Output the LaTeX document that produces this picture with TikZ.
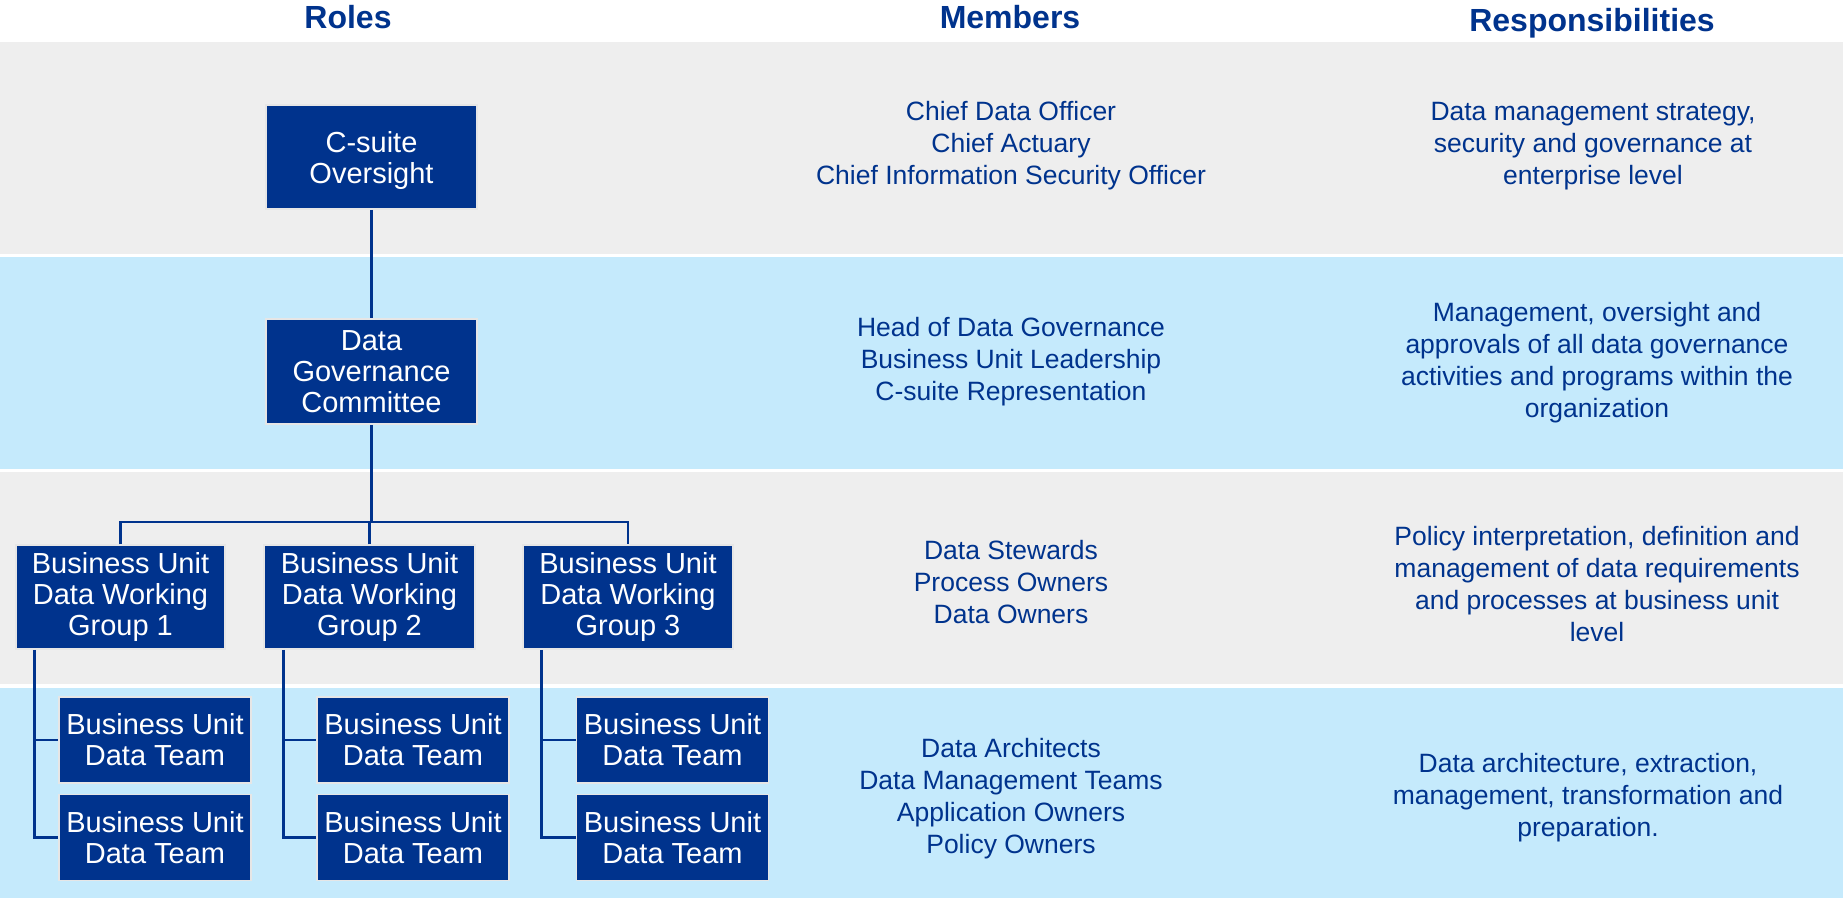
\documentclass[tikz,border=0pt]{standalone}
\usepackage{fontspec}
\setmainfont{Liberation Sans}
\definecolor{navy}{HTML}{00338D}
\definecolor{bandgray}{HTML}{EEEEEE}
\definecolor{bandblue}{HTML}{C5EAFC}
\definecolor{rim}{HTML}{E6E6E6}
\begin{document}
\begin{tikzpicture}[x=1pt,y=-1pt,
  rolebox/.style={fill=navy,draw=rim,line width=1.5pt,text=white,align=center,
    inner sep=0pt,font=\fontsize{29}{31}\selectfont},
  wide/.style={rolebox,minimum width=211pt,minimum height=104pt},
  team/.style={rolebox,minimum width=192pt,minimum height=86pt},
  colhead/.style={text=navy,font=\fontsize{32}{36}\selectfont\bfseries},
  info/.style={text=navy,align=center,font=\fontsize{26.5}{32}\selectfont},
  link/.style={draw=navy,line width=2.7pt}]
\useasboundingbox (0,0) rectangle (1843,898);
\fill[white] (0,0) rectangle (1843,898);
% horizontal bands, one per level
\fill[bandgray] (0,42) rectangle (1843,254);
\fill[bandblue] (0,257) rectangle (1843,469);
\fill[bandgray] (0,472) rectangle (1843,684);
\fill[bandblue] (0,688) rectangle (1843,898);

% column headings
\node[colhead] (hroles) at (348,17) {Roles};
\node[colhead] (hmembers) at (1010,17) {Members};
\node[colhead] (hresp) at (1592,23) {Responsibilities};

% role boxes
\node[wide] (cso) at (371.5,157) {\raisebox{-5pt}[\height][\depth]{\begin{tabular}{@{}c@{}}C-suite\\Oversight\end{tabular}}};
\node[wide,minimum height=105pt] (dgc) at (371.5,371.5) {Data\\Governance\\Committee};
\node[wide,minimum width=209pt] (wg1) at (120.5,597) {Business Unit\\Data Working\\Group 1};
\node[wide] (wg2) at (369.5,597) {Business Unit\\Data Working\\Group 2};
\node[wide,minimum width=210pt] (wg3) at (628,597) {Business Unit\\Data Working\\Group 3};
\node[team] (t11) at (155,740) {Business Unit\\Data Team};
\node[team] (t12) at (155,837.5) {Business Unit\\Data Team};
\node[team] (t21) at (413,740) {Business Unit\\Data Team};
\node[team] (t22) at (413,837.5) {Business Unit\\Data Team};
\node[team] (t31) at (672.5,740) {Business Unit\\Data Team};
\node[team] (t32) at (672.5,837.5) {Business Unit\\Data Team};

% connectors
\coordinate (bus) at (371.5,522);
\draw[link] (cso.south) -- (dgc.north);
\draw[link] (dgc.south) -- (bus);
\draw[link] (wg1.north) |- (bus) -| (wg3.north);
\draw[link] (wg2.north) -- (wg2.north |- bus);
\draw[link] ([xshift=19]wg1.south west) |- (t12.west);
\draw[link] ([xshift=19]wg1.south west |- t11.west) -- (t11.west);
\draw[link] ([xshift=20]wg2.south west) |- (t22.west);
\draw[link] ([xshift=20]wg2.south west |- t21.west) -- (t21.west);
\draw[link] ([xshift=19]wg3.south west) |- (t32.west);
\draw[link] ([xshift=19]wg3.south west |- t31.west) -- (t31.west);

% members
\node[info] (m1) at (1011,146) {Chief Data Officer\\Chief Actuary\\Chief Information Security Officer};
\node[info] (m2) at (1011,362) {Head of Data Governance\\Business Unit Leadership\\C-suite Representation};
\node[info] (m3) at (1011,582) {Data Stewards\\Process Owners\\Data Owners};
\node[info] (m4) at (1011,799) {Data Architects\\Data Management Teams\\Application Owners\\Policy Owners};

% responsibilities
\node[info] (r1) at (1593,146) {Data management strategy,\\security and governance at\\enterprise level};
\node[info] (r2) at (1597,363) {Management, oversight and\\approvals of all data governance\\activities and programs within the\\organization};
\node[info] (r3) at (1597,584) {Policy interpretation, definition and\\management of data requirements\\and processes at business unit\\level};
\node[info] (r4) at (1588,798) {Data architecture, extraction,\\management, transformation and\\preparation.};
\end{tikzpicture}
\end{document}
